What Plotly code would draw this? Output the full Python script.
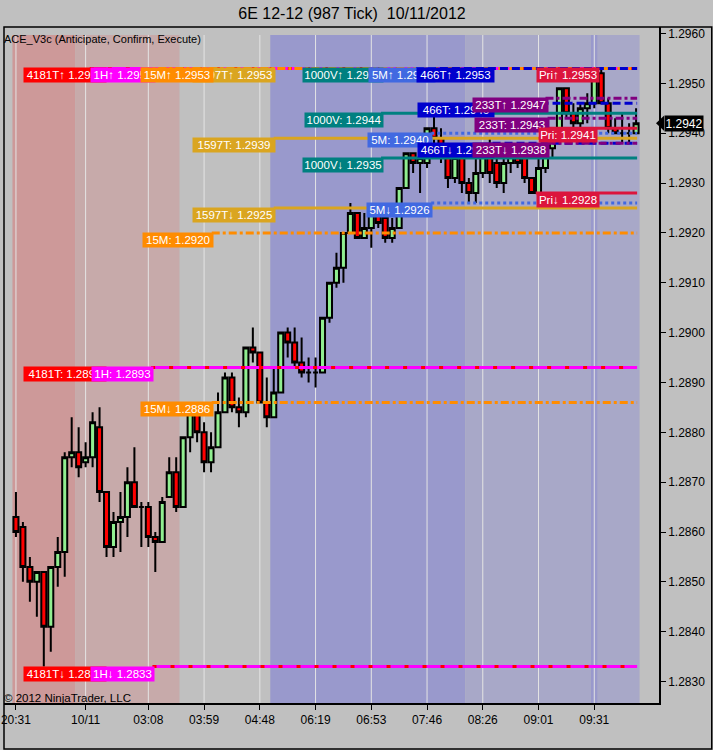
import plotly.graph_objects as go

# ---------------- data ----------------
bar_index = list(range(90))
opens = [1.2863, 1.2861, 1.2853, 1.2850, 1.2852, 1.2841, 1.2853, 1.2856, 1.2875, 1.2876,
         1.2874, 1.2875, 1.2881, 1.2868, 1.2857, 1.2862, 1.2863, 1.2870, 1.2865, 1.2865,
         1.2859, 1.2858, 1.2867, 1.2872, 1.2865, 1.2879, 1.2884, 1.2880, 1.2874, 1.2877,
         1.2884, 1.2891, 1.2885, 1.2884, 1.2897, 1.2896, 1.2886, 1.2883, 1.2888, 1.2900,
         1.2898, 1.2894, 1.2892, 1.2892, 1.2892, 1.2903, 1.2910, 1.2913, 1.2920, 1.2924,
         1.2919, 1.2921, 1.2924, 1.2923, 1.2919, 1.2921, 1.2929, 1.2936, 1.2934, 1.2934,
         1.2941, 1.2939, 1.2936, 1.2931, 1.2935, 1.2930, 1.2928, 1.2932, 1.2936, 1.2934,
         1.2930, 1.2934, 1.2936, 1.2935, 1.2931, 1.2928, 1.2933, 1.2937, 1.2939, 1.2949,
         1.2944, 1.2942, 1.2945, 1.2946, 1.2952, 1.2946, 1.2941, 1.2940, 1.2940, 1.2940]
highs = [1.2868, 1.2862, 1.2855, 1.2852, 1.2852, 1.2853, 1.2859, 1.2876, 1.2883, 1.2881,
         1.2878, 1.2884, 1.2885, 1.2868, 1.2864, 1.2868, 1.2873, 1.2877, 1.2866, 1.2866,
         1.2860, 1.2867, 1.2875, 1.2875, 1.2879, 1.2885, 1.2885, 1.2882, 1.2880, 1.2888,
         1.2892, 1.2892, 1.2887, 1.2897, 1.2901, 1.2896, 1.2891, 1.2893, 1.2900, 1.2901,
         1.2901, 1.2899, 1.2895, 1.2895, 1.2903, 1.2910, 1.2916, 1.2920, 1.2926, 1.2924,
         1.2924, 1.2925, 1.2926, 1.2925, 1.2923, 1.2929, 1.2936, 1.2936, 1.2937, 1.2941,
         1.2945, 1.2941, 1.2937, 1.2937, 1.2936, 1.2931, 1.2935, 1.2938, 1.2939, 1.2936,
         1.2936, 1.2937, 1.2937, 1.2936, 1.2931, 1.2936, 1.2938, 1.2940, 1.2949, 1.2949,
         1.2946, 1.2946, 1.2948, 1.2951, 1.2953, 1.2947, 1.2943, 1.2944, 1.2942, 1.2945]
lows = [1.2859, 1.2850, 1.2846, 1.2843, 1.2833, 1.2836, 1.2849, 1.2851, 1.2873, 1.2871,
        1.2873, 1.2873, 1.2866, 1.2855, 1.2855, 1.2856, 1.2859, 1.2865, 1.2857, 1.2857,
        1.2852, 1.2858, 1.2867, 1.2864, 1.2865, 1.2876, 1.2878, 1.2872, 1.2872, 1.2877,
        1.2884, 1.2884, 1.2881, 1.2883, 1.2894, 1.2886, 1.2881, 1.2883, 1.2888, 1.2895,
        1.2893, 1.2891, 1.2890, 1.2889, 1.2892, 1.2902, 1.2909, 1.2910, 1.2920, 1.2919,
        1.2919, 1.2917, 1.2921, 1.2918, 1.2918, 1.2921, 1.2929, 1.2932, 1.2928, 1.2933,
        1.2938, 1.2934, 1.2929, 1.2930, 1.2928, 1.2926, 1.2926, 1.2931, 1.2930, 1.2929,
        1.2928, 1.2932, 1.2933, 1.2930, 1.2928, 1.2928, 1.2932, 1.2935, 1.2938, 1.2943,
        1.2941, 1.2941, 1.2942, 1.2945, 1.2946, 1.2940, 1.2940, 1.2938, 1.2938, 1.2940]
closes = [1.2860, 1.2853, 1.2850, 1.2852, 1.2841, 1.2853, 1.2856, 1.2875, 1.2876, 1.2873,
          1.2875, 1.2882, 1.2868, 1.2857, 1.2862, 1.2863, 1.2870, 1.2865, 1.2865, 1.2859,
          1.2858, 1.2866, 1.2872, 1.2865, 1.2879, 1.2884, 1.2880, 1.2874, 1.2877, 1.2884,
          1.2891, 1.2885, 1.2884, 1.2897, 1.2896, 1.2886, 1.2883, 1.2888, 1.2900, 1.2898,
          1.2894, 1.2892, 1.2892, 1.2892, 1.2903, 1.2910, 1.2913, 1.2920, 1.2924, 1.2919,
          1.2921, 1.2924, 1.2922, 1.2919, 1.2921, 1.2929, 1.2936, 1.2934, 1.2935, 1.2941,
          1.2939, 1.2936, 1.2931, 1.2935, 1.2930, 1.2928, 1.2932, 1.2936, 1.2932, 1.2930,
          1.2934, 1.2936, 1.2934, 1.2931, 1.2928, 1.2933, 1.2938, 1.2939, 1.2949, 1.2944,
          1.2942, 1.2945, 1.2946, 1.2951, 1.2946, 1.2941, 1.2940, 1.2940, 1.2940, 1.2942]

tick_bars = [0, 10, 19, 27, 35, 43, 51, 59, 67, 75, 83]
tick_text = ["20:31", "10/11", "03:08", "03:59", "04:48", "06:19",
             "06:53", "07:46", "08:26", "09:01", "09:31"]

price_ticks = [1.2830, 1.2840, 1.2850, 1.2860, 1.2870, 1.2880, 1.2890,
               1.2900, 1.2910, 1.2920, 1.2930, 1.2940, 1.2950, 1.2960]

# session background bands (bar edges) and their colours
band_edges = [-0.5, 8.5, 23.5, 36.5, 64.5, 82.5, 83.5, 89.5]
band_colors = ["#CD9999", "#C7AAAA", "#C0C0C0", "#9999CC", "#A8A8C8", "#9999CC", "#A8A8C8"]

# indicator level lines: price, colour, dash, start bar
line_prices = [1.2953, 1.2953, 1.2953, 1.2953,
               1.2893, 1.2893, 1.2833, 1.2833,
               1.2886, 1.2920, 1.2925, 1.2939,
               1.2944, 1.2935, 1.2926, 1.2940,
               1.2946, 1.2938, 1.2947, 1.2943, 1.2938,
               1.2941, 1.2928]
line_colors = ["#FF00FF", "#FF0000", "#FF8C00", "#0000CD",
               "#FF00FF", "#FF0000", "#FF00FF", "#FF0000",
               "#FF8C00", "#FF8C00", "#DAA520", "#DAA520",
               "#008080", "#008080", "#4169E1", "#4169E1",
               "#0000CD", "#0000CD", "#800080", "#800080", "#800080",
               "#DC143C", "#DC143C"]
line_dashes = ["solid", "4px,14px", "8px,3px,3px,3px", "8px,4px",
               "solid", "4px,14px", "solid", "4px,14px",
               "8px,3px,3px,3px", "8px,3px,3px,3px", "solid", "solid",
               "solid", "solid", "3px,3px", "3px,3px",
               "8px,4px", "8px,4px", "8px,3px,3px,3px", "8px,3px,3px,3px", "8px,3px,3px,3px",
               "solid", "solid"]
line_starts = [10.6, 10.6, 18.0, 57.4,
               19.4, 19.4, 19.6, 19.6,
               28.1, 28.1, 37.0, 37.0,
               52.4, 52.4, 59.6, 59.6,
               68.4, 68.4, 76.0, 76.3, 76.3,
               74.9, 74.6]
line_end = 89.15

# indicator labels: text, price, colour, start bar, box width (px)
label_texts = ["4181T↑ 1.2953", "1H↑ 1.2953", "1597T↑ 1.2953", "15M↑ 1.2953",
               "1000V↑ 1.2953", "5M↑ 1.2953", "466T↑ 1.2953", "Pri↑ 1.2953",
               "1000V: 1.2944", "466T: 1.2946", "233T↑ 1.2947", "233T: 1.2943",
               "5M: 1.2940", "1597T: 1.2939", "466T↓ 1.2938", "233T↓ 1.2938",
               "Pri: 1.2941", "1000V↓ 1.2935", "Pri↓ 1.2928", "5M↓ 1.2926",
               "1597T↓ 1.2925", "15M: 1.2920", "4181T: 1.2893", "1H: 1.2893",
               "15M↓ 1.2886", "4181T↓ 1.2833", "1H↓ 1.2833"]
label_prices = [1.2953, 1.2953, 1.2953, 1.2953,
                1.2953, 1.2953, 1.2953, 1.2953,
                1.2944, 1.2946, 1.2947, 1.2943,
                1.2940, 1.2939, 1.2938, 1.2938,
                1.2941, 1.2935, 1.2928, 1.2926,
                1.2925, 1.2920, 1.2893, 1.2893,
                1.2886, 1.2833, 1.2833]
label_colors = ["#FF0000", "#FF00FF", "#DAA520", "#FF8C00",
                "#008080", "#4169E1", "#0000CD", "#DC143C",
                "#008080", "#0000CD", "#800080", "#800080",
                "#4169E1", "#DAA520", "#0000CD", "#800080",
                "#DC143C", "#008080", "#DC143C", "#4169E1",
                "#DAA520", "#FF8C00", "#FF0000", "#FF00FF",
                "#FF8C00", "#FF0000", "#FF00FF"]
label_starts = [1.0, 10.57, 25.29, 17.86,
                41.0, 50.57, 57.43, 74.57,
                41.29, 57.57, 65.43, 65.71,
                50.43, 25.29, 57.57, 65.43,
                74.86, 41.0, 74.57, 50.29,
                25.29, 18.14, 1.0, 10.71,
                17.86, 1.0, 10.57]
label_widths = [82, 64, 82, 72,
                80, 66, 77, 62,
                78, 76, 75, 74,
                64, 82, 76, 76,
                58, 80, 62, 65,
                82, 70, 82, 61,
                72, 82, 63]

# ---------------- layout geometry ----------------
W, H = 713, 750
PL, PR, PT, PB = 1, 659, 27, 703


def px_x(px):
    return (px - PL) / (PR - PL)


def px_y(py):
    return (PB - py) / (PB - PT)


FONT = "Liberation Sans, Arial, sans-serif"

fig = go.Figure()
fig.add_trace(go.Candlestick(
    x=bar_index, open=opens, high=highs, low=lows, close=closes,
    increasing=dict(line=dict(color="black", width=2), fillcolor="#90EE90"),
    decreasing=dict(line=dict(color="black", width=2), fillcolor="#FF0000"),
    whiskerwidth=0, hoverinfo="skip", showlegend=False))

shapes = []
band_top = px_y(35)
for i, col in enumerate(band_colors):
    shapes.append(dict(type="rect", xref="x", yref="paper",
                       x0=band_edges[i], x1=band_edges[i + 1], y0=0, y1=band_top,
                       fillcolor=col, line=dict(width=0), layer="below"))
for tb in tick_bars:
    shapes.append(dict(type="line", xref="x", yref="paper", x0=tb, x1=tb, y0=0, y1=band_top,
                       line=dict(color="#E4E4E4", width=1), layer="below"))
for p, c, d, s in zip(line_prices, line_colors, line_dashes, line_starts):
    shapes.append(dict(type="line", xref="x", yref="y", x0=s, x1=line_end, y0=p, y1=p,
                       line=dict(color=c, width=3, dash=d), layer="above"))

# outer frame
shapes.append(dict(type="rect", xref="paper", yref="paper",
                   x0=px_x(1), x1=px_x(712), y0=px_y(749), y1=px_y(27),
                   line=dict(color="black", width=1.5), fillcolor="rgba(0,0,0,0)"))

# current price marker
last = closes[-1]
half = 7.5 / ((PB - PT) / (1.29613 - 1.28257))
shapes.append(dict(type="path", xref="paper", yref="y",
                   path=f"M {px_x(656)},{last} L {px_x(664)},{last + half} "
                        f"L {px_x(664)},{last - half} Z",
                   fillcolor="black", line=dict(width=0)))

annotations = []
for t, p, c, s, w in zip(label_texts, label_prices, label_colors, label_starts, label_widths):
    annotations.append(dict(x=s, y=p, xref="x", yref="y", xanchor="left", yanchor="top",
                            text=t, showarrow=False, bgcolor=c, width=w - 2, height=12,
                            borderpad=1, yshift=1, align="center",
                            font=dict(family=FONT, size=11.5, color="white")))

annotations.append(dict(x=px_x(664), y=last, xref="paper", yref="y", xanchor="left",
                        yanchor="middle", text=f"{last:.4f}", showarrow=False,
                        bgcolor="black", borderpad=1, width=36, height=13,
                        font=dict(family=FONT, size=12, color="white")))
annotations.append(dict(x=px_x(-1), y=px_y(39), xref="paper", yref="paper", xanchor="left",
                        yanchor="middle", text="ACE_V3c (Anticipate, Confirm, Execute)",
                        showarrow=False, font=dict(family=FONT, size=11, color="black")))
annotations.append(dict(x=px_x(-1), y=px_y(698), xref="paper", yref="paper", xanchor="left",
                        yanchor="middle", text="© 2012 NinjaTrader, LLC",
                        showarrow=False, font=dict(family=FONT, size=11.5, color="black")))

fig.update_layout(
    width=W, height=H,
    margin=dict(l=PL, r=W - PR, t=PT, b=H - PB),
    paper_bgcolor="#C0C0C0", plot_bgcolor="#C0C0C0",
    title=dict(text="6E 12-12 (987 Tick)\u00a0 10/11/2012", x=352 / W, y=1 - 13 / H,
               xanchor="center", yanchor="middle", xref="container", yref="container",
               font=dict(family=FONT, size=16, color="black")),
    boxgap=0.15, boxgroupgap=0.15,
    showlegend=False,
    shapes=shapes, annotations=annotations,
    xaxis=dict(range=[-1.714, 92.29], rangeslider=dict(visible=False),
               tickvals=tick_bars, ticktext=tick_text, ticks="outside", ticklen=5,
               tickcolor="black", showgrid=False, zeroline=False, showline=True,
               linecolor="black", linewidth=1.5, ticklabeloverflow="allow",
               tickfont=dict(family=FONT, size=12, color="black")),
    yaxis=dict(range=[1.28257, 1.29613], side="right", tickvals=price_ticks,
               tickformat=".4f", ticks="outside", ticklen=5, tickcolor="black",
               showgrid=False, zeroline=False, showline=True, linecolor="black",
               linewidth=1.5, tickfont=dict(family=FONT, size=12, color="black")),
)

fig.write_html("out.html",
               config={"displayModeBar": False},
               post_script="document.body.style.margin='0';"
                           "document.body.style.overflow='hidden';")
